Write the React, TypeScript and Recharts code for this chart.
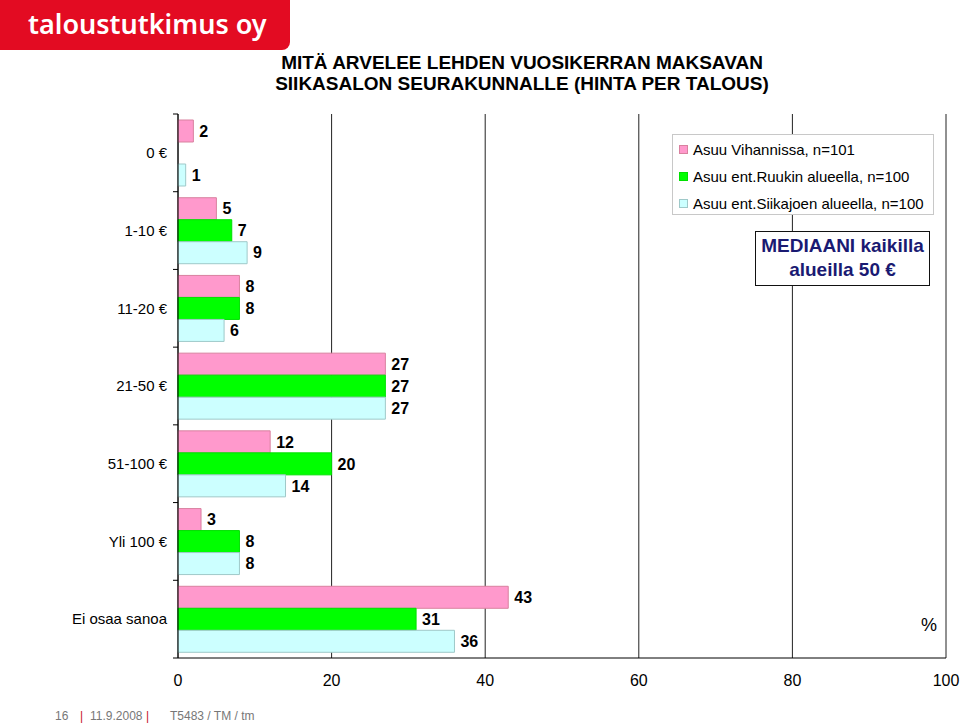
import { BarChart, Bar, XAxis, YAxis, CartesianGrid, LabelList } from 'recharts'

const categories = ['0 €', '1-10 €', '11-20 €', '21-50 €', '51-100 €', 'Yli 100 €', 'Ei osaa sanoa']
const vihannissa = [2, 5, 8, 27, 12, 3, 43]
const ruukki = [0, 7, 8, 27, 20, 8, 31]
const siikajoki = [1, 9, 6, 27, 14, 8, 36]
const xTicks = [0, 20, 40, 60, 80, 100]

const series = [
  { key: 'vih', name: 'Asuu Vihannissa, n=101', fill: '#ff99cc', stroke: '#d9819f' },
  { key: 'ruu', name: 'Asuu ent.Ruukin alueella, n=100', fill: '#00ff00', stroke: '#00e000' },
  { key: 'sii', name: 'Asuu ent.Siikajoen alueella, n=100', fill: '#ccffff', stroke: '#9fc9c9' },
]

const data = categories.map((c, i) => ({
  cat: c,
  vih: vihannissa[i],
  ruu: ruukki[i],
  sii: siikajoki[i],
}))

const W = 960
const H = 727
const M = { top: 114, right: 14, bottom: 39, left: 0 }
const X_AXIS_H = 30
const FONT = '"Liberation Sans", Arial, sans-serif'
const band = (H - M.top - M.bottom - X_AXIS_H) / categories.length

// tick x arrives as axis x minus tickSize(6) + tickMargin(2)
function CatTick(props: any) {
  const { x, y, payload, index } = props
  const last = index === categories.length - 1
  return (
    <g>
      <line x1={x + 3} x2={x + 8} y1={y - band / 2} y2={y - band / 2} stroke="#000" />
      {last && <line x1={x + 3} x2={x + 8} y1={y + band / 2} y2={y + band / 2} stroke="#000" />}
      <text x={x - 3} y={y} dy="0.35em" textAnchor="end" fontSize={15} fontFamily={FONT} fill="#000">
        {payload.value}
      </text>
    </g>
  )
}

function LegendBox() {
  return (
    <div
      style={{
        position: 'absolute',
        left: 672,
        top: 134,
        border: '1px solid #c8c8c8',
        width: 262,
        height: 81,
        boxSizing: 'border-box',
        padding: '1px 0 0 6px',
        fontFamily: FONT,
        fontSize: 15,
        color: '#000',
        background: '#fff',
        whiteSpace: 'nowrap',
      }}
    >
      {series.map((s) => (
        <div key={s.key} style={{ display: 'flex', alignItems: 'center', height: 27 }}>
          <span
            style={{
              width: 9,
              height: 9,
              background: s.fill,
              border: `1px solid ${s.stroke}`,
              boxSizing: 'border-box',
              marginRight: 5,
            }}
          />
          <span>{s.name}</span>
        </div>
      ))}
    </div>
  )
}

export default function App() {
  return (
    <div style={{ position: 'absolute', left: 0, top: 0, width: W, height: H, background: '#fff', fontFamily: FONT }}>
      <div
        style={{
          position: 'absolute',
          left: 0,
          top: 0,
          width: 290,
          height: 50,
          background: '#e30b22',
          borderBottomRightRadius: 8,
          color: '#fff',
          fontFamily: '"Noto Sans", sans-serif',
          fontWeight: 600,
          fontSize: 27,
          lineHeight: '48px',
          paddingLeft: 28,
          boxSizing: 'border-box',
        }}
      >
        taloustutkimus oy
      </div>
      <div
        style={{
          position: 'absolute',
          left: 222,
          top: 53,
          width: 600,
          textAlign: 'center',
          fontWeight: 'bold',
          fontSize: 19,
          lineHeight: '20.5px',
          color: '#000',
        }}
      >
        MITÄ ARVELEE LEHDEN VUOSIKERRAN MAKSAVAN
        <br />
        SIIKASALON SEURAKUNNALLE (HINTA PER TALOUS)
      </div>

      <BarChart
        width={W}
        height={H}
        data={data}
        layout="vertical"
        margin={M}
        barSize={22}
        barGap={0}
        style={{ position: 'absolute', left: 0, top: 0 }}
      >
        <CartesianGrid horizontal={false} stroke="#222" strokeOpacity={1} />
        <XAxis
          type="number"
          domain={[0, 100]}
          ticks={xTicks}
          height={X_AXIS_H}
          tickLine={false}
          tickSize={0}
          tickMargin={17}
          axisLine={{ stroke: '#000' }}
          tick={{ fontSize: 16, fontFamily: FONT, fill: '#000' }}
          interval={0}
        />
        <XAxis
          xAxisId="top"
          orientation="top"
          type="number"
          domain={[0, 100]}
          height={0}
          tick={false}
          tickLine={false}
          axisLine={{ stroke: '#000' }}
        />
        <YAxis
          type="category"
          dataKey="cat"
          width={178}
          tickLine={false}
          axisLine={{ stroke: '#000' }}
          tick={<CatTick />}
          interval={0}
        />
        {series.map((s) => (
          <Bar key={s.key} dataKey={s.key} name={s.name} fill={s.fill} stroke={s.stroke} strokeWidth={1} isAnimationActive={false}>
            <LabelList
              dataKey={s.key}
              position="right"
              offset={6}
              formatter={(v: any) => (v === 0 ? '' : v)}
              style={{ fontSize: 16, fontWeight: 'bold', fontFamily: FONT, fill: '#000' }}
            />
          </Bar>
        ))}
      </BarChart>

      <LegendBox />
      <div
        style={{
          position: 'absolute',
          left: 755,
          top: 231,
          width: 175,
          height: 55,
          boxSizing: 'border-box',
          border: '1.5px solid #111',
          background: '#fff',
          color: '#1a1a72',
          fontWeight: 'bold',
          fontSize: 19,
          lineHeight: '24px',
          textAlign: 'center',
          paddingTop: 2,
        }}
      >
        MEDIAANI kaikilla
        <br />
        alueilla 50 €
      </div>
      <div style={{ position: 'absolute', left: 921, top: 615, fontSize: 18, color: '#000' }}>%</div>

      <div style={{ position: 'absolute', left: 0, top: 708, width: 400, height: 16, fontSize: 12, color: '#777', lineHeight: '16px' }}>
        <span style={{ position: 'absolute', left: 55 }}>16</span>
        <span style={{ position: 'absolute', left: 80, color: '#c8102e' }}>|</span>
        <span style={{ position: 'absolute', left: 90 }}>11.9.2008</span>
        <span style={{ position: 'absolute', left: 146, color: '#c8102e' }}>|</span>
        <span style={{ position: 'absolute', left: 170 }}>T5483 / TM / tm</span>
      </div>
    </div>
  )
}
